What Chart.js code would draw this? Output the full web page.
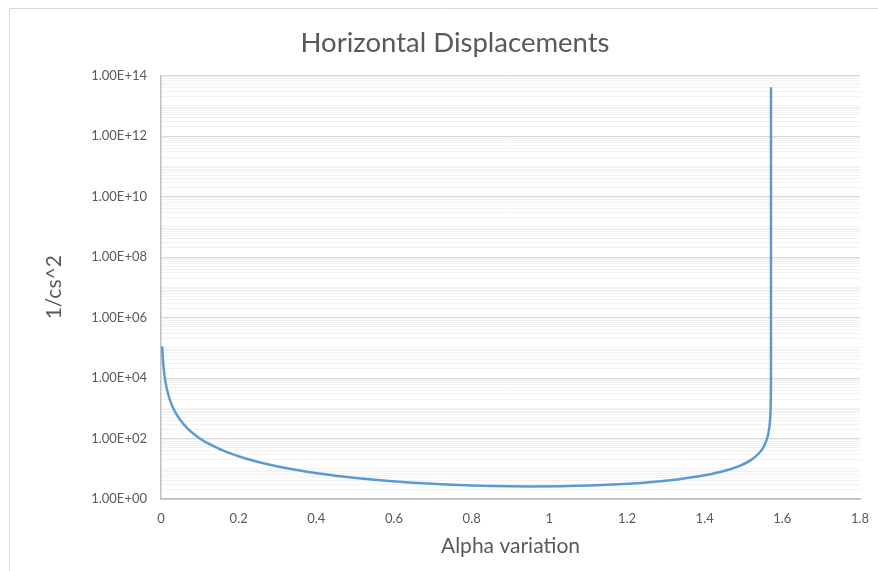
<!DOCTYPE html>
<html>
<head>
<meta charset="utf-8">
<title>Horizontal Displacements</title>
<script src="https://cdn.jsdelivr.net/npm/chart.js@4.4.1/dist/chart.umd.min.js"></script>
<style>
  html, body { margin: 0; padding: 0; background: #fff; }
  #chart { display: block; }
</style>
</head>
<body>
<canvas id="chart" width="878" height="571"></canvas>
<script>
// values
var alpha = [0.003, 0.005, 0.008, 0.012, 0.018, 0.025, 0.035, 0.05, 0.07, 0.1,
    0.13, 0.17, 0.22, 0.28, 0.35, 0.45, 0.55, 0.65, 0.75, 0.85,
    0.95, 1.05, 1.15, 1.25, 1.33, 1.4, 1.45, 1.49, 1.52, 1.54,
    1.55, 1.56, 1.565, 1.568, 1.57, 1.5706, 1.5707, 1.57079, 1.5707963, 1.57079633]
var invCs2 = [111000, 40000, 15600, 6900, 3090, 1600, 816, 400, 205, 100.7,
    60, 35.4, 21.5, 13.6, 9.05, 5.87, 4.29, 3.43, 2.94, 2.68,
    2.6, 2.67, 2.94, 3.52, 4.45, 6.06, 8.4, 12.5, 19.7, 32.5,
    48, 93, 172, 357, 1250, 5100, 10400, 160000, 40000000, 4.1e13]
var xTicks = [0, 0.2, 0.4, 0.6, 0.8, 1, 1.2, 1.4, 1.6, 1.8]
var yPowers = [0, 2, 4, 6, 8, 10, 12, 14]

var points = alpha.map(function (a, i) { return {x: a, y: invCs2[i]} })

function isMajor(v) {
    var p = Math.log10(v)
    return Math.abs(p - Math.round(p)) < 1e-9 && yPowers.indexOf(Math.round(p)) >= 0
}

function sciLabel(v) {
    var p = Math.round(Math.log10(v))
    return '1.00E+' + (p < 10 ? '0' + p : p)
}

var frame = {
    id: 'frame',
    beforeDraw: function (chart) {
        var ctx = chart.ctx
        ctx.save()
        ctx.fillStyle = '#ffffff'
        ctx.fillRect(0, 0, chart.width, chart.height)
        ctx.strokeStyle = '#d9d9d9'
        ctx.lineWidth = 1
        ctx.beginPath()
        ctx.moveTo(9.5, chart.height)
        ctx.lineTo(9.5, 8.5)
        ctx.lineTo(chart.width, 8.5)
        ctx.stroke()
        ctx.fillStyle = '#595959'
        ctx.font = '27.5px Lato'
        ctx.textAlign = 'center'
        ctx.textBaseline = 'alphabetic'
        ctx.fillText('Horizontal Displacements', 455, 52)
        ctx.restore()
    }
}

Chart.defaults.font.family = 'Lato'
Chart.defaults.color = '#595959'

var ctx = document.getElementById('chart')
var myChart = new Chart(ctx, {
    type: 'line',
    data: {
        datasets: [{
            label: '1/cs^2',
            data: points,
            borderColor: '#5b9bd5',
            borderWidth: 2.5,
            pointRadius: 0,
            fill: false,
            cubicInterpolationMode: 'monotone'
        }]
    },
    options: {
        responsive: false,
        animation: false,
        devicePixelRatio: 1,
        layout: { padding: { left: 0, right: 18, top: 75.5, bottom: 0 } },
        plugins: {
            legend: { display: false },
            title: { display: false },
            tooltip: { enabled: false }
        },
        scales: {
            x: {
                type: 'linear',
                min: 0,
                max: 1.8,
                afterBuildTicks: function (scale) {
                    scale.ticks = xTicks.map(function (v) { return {value: v} })
                },
                afterFit: function (scale) {
                    scale.height = 72
                    scale.paddingLeft = 0
                    scale.paddingRight = 0
                },
                ticks: {
                    autoSkip: false,
                    maxRotation: 0,
                    padding: 12,
                    font: { size: 13 },
                    callback: function (v) { return String(Number(v.toFixed(1))) }
                },
                grid: { display: false, drawTicks: false },
                border: { display: true, color: '#bfbfbf', width: 1.5 },
                title: {
                    display: true,
                    text: 'Alpha variation',
                    font: { size: 21 },
                    padding: { top: 0, bottom: 12 }
                }
            },
            y: {
                type: 'logarithmic',
                min: 1,
                max: 1e14,
                afterBuildTicks: function (scale) {
                    var t = []
                    for (var p = 0; p < 14; p++) {
                        for (var m = 1; m < 10; m++) {
                            t.push({value: m * Math.pow(10, p)})
                        }
                    }
                    t.push({value: 1e14})
                    scale.ticks = t
                },
                afterFit: function (scale) { scale.width = 161 },
                ticks: {
                    autoSkip: false,
                    padding: 14,
                    font: { size: 13 },
                    callback: function (v) { return isMajor(v) ? sciLabel(v) : '' }
                },
                grid: {
                    drawTicks: false,
                    color: function (c) {
                        return c.tick && isMajor(c.tick.value) ? '#d9d9d9' : '#f2f2f2'
                    },
                    lineWidth: 1
                },
                border: { display: true, color: '#bfbfbf', width: 1.5 },
                title: {
                    display: true,
                    text: '1/cs^2',
                    font: { size: 21 },
                    padding: { top: 42, bottom: 0 }
                }
            }
        }
    },
    plugins: [frame]
})
</script>
</body>
</html>
